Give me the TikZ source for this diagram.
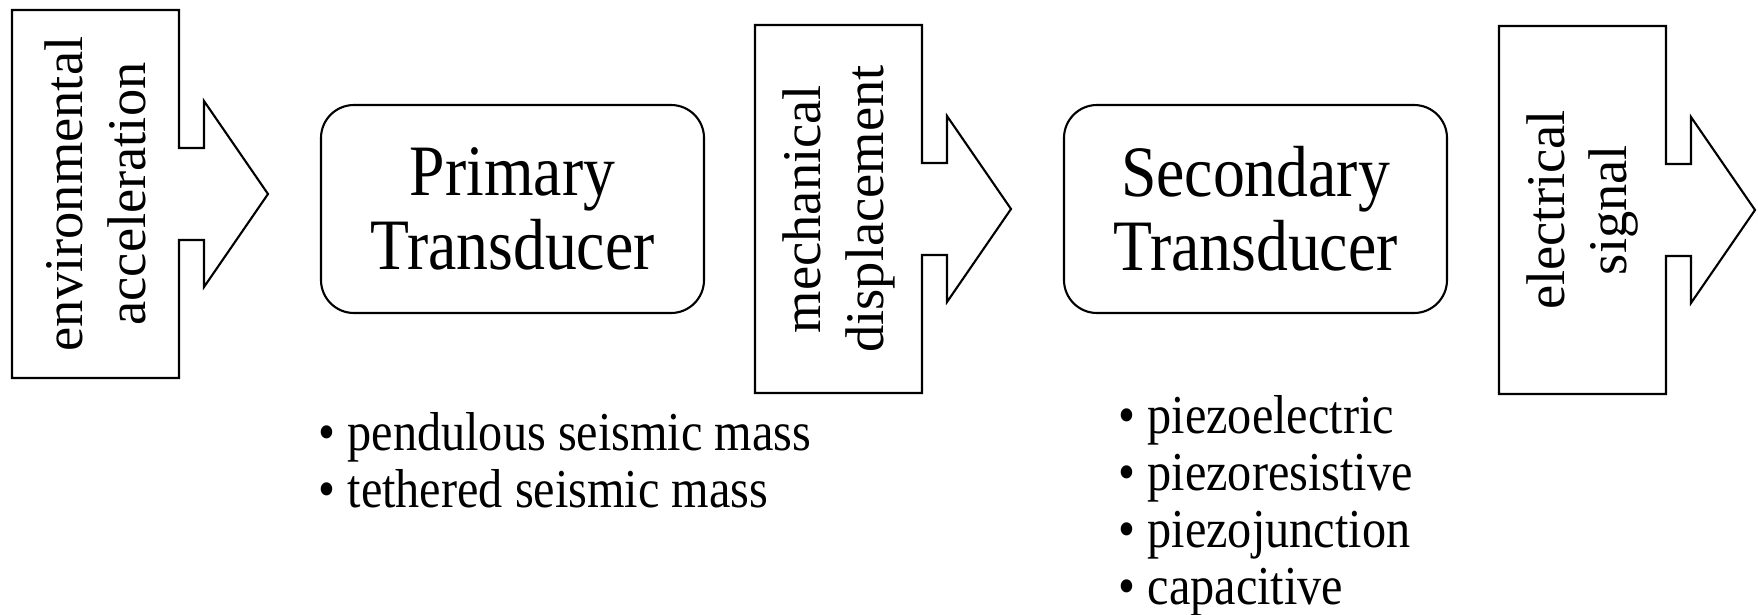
\documentclass[tikz,border=0pt]{standalone}
\usepackage{fontspec}
\setmainfont{Liberation Serif}
\newfontfamily\tallserif[FakeStretch=0.88]{Liberation Serif}

\tikzset{
  outline/.style={draw, line width=0.6pt},
  stage/.style={outline, rounded corners=0.33cm, minimum width=3.83cm, minimum height=2.08cm,
    align=center, inner sep=0pt, font=\tallserif\fontsize{20.6}{21}\selectfont},
  listitem/.style={anchor=base west, inner sep=0pt, font=\tallserif\fontsize{15.6}{16}\selectfont},
  pics/signalbox/.style={code={
    \draw[outline] (0,-1.84) -- (1.67,-1.84) -- (1.67,-0.46) -- (1.92,-0.46) -- (1.92,-0.93)
      -- (2.56,0) -- (1.92,0.93) -- (1.92,0.46) -- (1.67,0.46) -- (1.67,1.84) -- (0,1.84) -- cycle;
    \node[rotate=90, align=center, font=\fontsize{15.5}{17.9}\selectfont] (-text) at (0.835,0) {#1};
  }}
}

\begin{document}
\begin{tikzpicture}

        \useasboundingbox (0,0) rectangle (17.58,6.14);

        % Signals (boxes with arrows)
        \pic (env) at (0.12,4.20) {signalbox={environmental\\acceleration}};
        \pic (mech) at (7.55,4.05) {signalbox={mechanical\\displacement}};
        \pic (elec) at (14.99,4.04) {signalbox={electrical\\signal}};

        % Transducers
        \node[stage] (primary) at (5.125,4.05) {Primary\\Transducer};
        \node[stage] (secondary) at (12.555,4.05) {Secondary\\Transducer};

        % Examples of primary transducers
        \node[listitem] (pendulous) at (3.18,1.64) {• pendulous seismic mass};
        \node[listitem] (tethered) at (3.18,1.07) {• tethered seismic mass};

        % Examples of secondary transducers
        \node[listitem] (piezoel) at (11.18,1.81) {• piezoelectric};
        \node[listitem] (piezores) at (11.18,1.24) {• piezoresistive};
        \node[listitem] (piezojn) at (11.18,0.67) {• piezojunction};
        \node[listitem] (capac) at (11.18,0.10) {• capacitive};

    \end{tikzpicture}
\end{document}
